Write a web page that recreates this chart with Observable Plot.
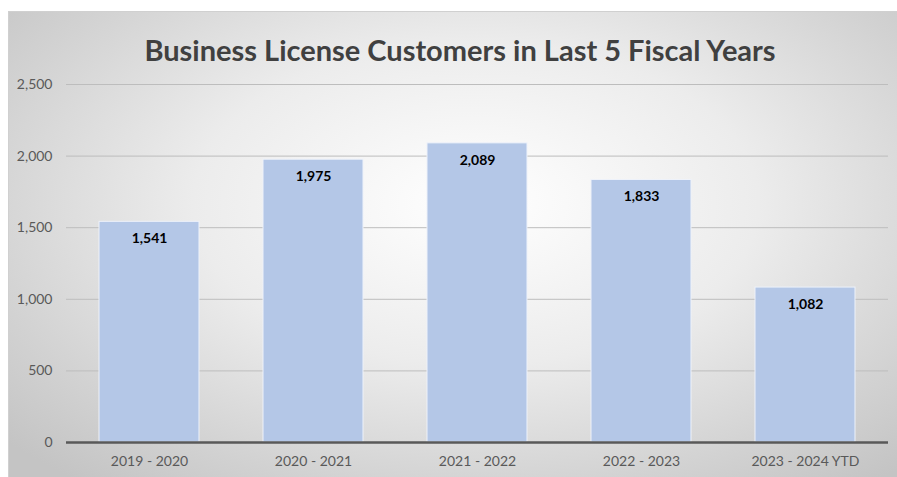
<!DOCTYPE html>
<html>
<head>
<meta charset="utf-8">
<script src="https://cdn.jsdelivr.net/npm/d3@7"></script>
<script src="https://cdn.jsdelivr.net/npm/@observablehq/plot@0.6"></script>
<style>
  html, body { margin: 0; padding: 0; background: #ffffff; width: 897px; height: 477px; overflow: hidden; }
  #frame {
    position: absolute; left: 8px; top: 11px; width: 900px; height: 480px;
    border: 1px solid #d0d0d0; box-sizing: border-box;
    background: radial-gradient(ellipse 70% 75% at 52% 40%, #ffffff 0%, #ececec 45%, #d2d2d2 80%, #c4c4c4 100%);
  }
  #title {
    position: absolute; left: 0; top: 20px; width: 902px; text-align: center;
    font-family: Lato, "Open Sans", sans-serif; font-weight: bold; font-size: 29px; color: #404040;
  }
  #chart { position: absolute; left: 0px; top: 64px; }
</style>
</head>
<body>
<div id="frame">
  <div id="title">Business License Customers in Last 5 Fiscal Years</div>
  <div id="chart"></div>
</div>
<script>
const categories = ["2019 - 2020", "2020 - 2021", "2021 - 2022", "2022 - 2023", "2023 - 2024 YTD"];
const customers = [1541, 1975, 2089, 1833, 1082];
const yTicks = [0, 500, 1000, 1500, 2000, 2500];

const data = categories.map((c, i) => ({category: c, value: customers[i]}));
const fmt = d3.format(",");

const plot = Plot.plot({
  width: 887,
  height: 401,
  marginTop: 8,
  marginBottom: 35,
  marginLeft: 57,
  marginRight: 8,
  style: {background: "transparent", fontFamily: "Lato, 'Open Sans', sans-serif", fontSize: "14px", color: "#595959"},
  x: {domain: categories, paddingInner: 0.39, paddingOuter: 0.195, label: null, tickSize: 0, tickPadding: 14},
  y: {domain: [0, 2500], ticks: yTicks, tickFormat: fmt, label: null, tickSize: 0, tickPadding: 14},
  marks: [
    Plot.gridY(yTicks.filter(d => d > 0), {stroke: "#bdbdbd", strokeOpacity: 1, strokeWidth: 1}),
    Plot.barY(data, {x: "category", y: "value", fill: "#b4c7e7", stroke: "#eef2fa", strokeWidth: 1}),
    Plot.text(data, {x: "category", y: "value", text: d => fmt(d.value), dy: 17, fill: "#000000", fontWeight: "bold", fontSize: 14}),
    Plot.ruleY([0], {stroke: "#595959", strokeWidth: 2.5})
  ]
});
document.getElementById("chart").appendChild(plot);
</script>
</body>
</html>
